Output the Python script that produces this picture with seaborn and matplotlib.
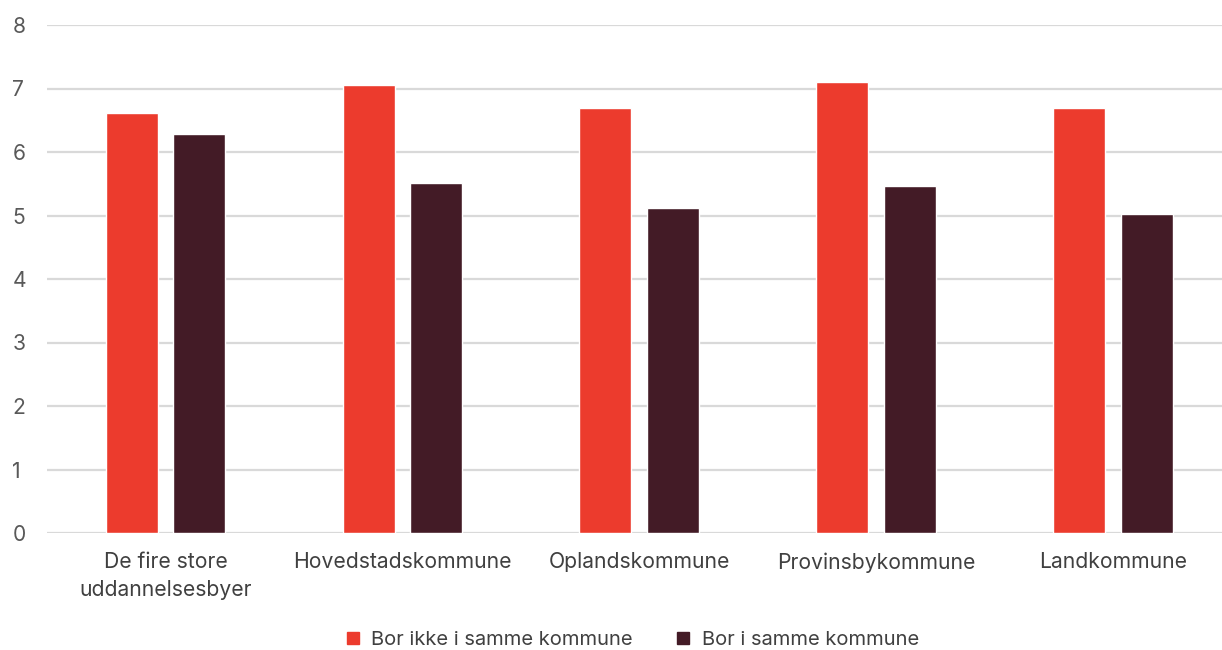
import seaborn as sns
import pandas as pd
import matplotlib.pyplot as plt

categories = ["De fire store\nuddannelsesbyer", "Hovedstadskommune", "Oplandskommune",
              "Provinsbykommune", "Landkommune"]
series = ["Bor ikke i samme kommune", "Bor i samme kommune"]
ikke_samme = [6.61, 7.06, 6.69, 7.10, 6.70]
samme = [6.28, 5.51, 5.12, 5.47, 5.02]

colors = {"Bor ikke i samme kommune": "#EC3B2D", "Bor i samme kommune": "#431B26"}

df = pd.DataFrame({
    "kategori": categories * 2,
    "gruppe": [series[0]] * 5 + [series[1]] * 5,
    "værdi": ikke_samme + samme,
})

sns.set_theme(style="white")
plt.rcParams["font.family"] = ["Inter", "DejaVu Sans"]

fig = plt.figure(figsize=(12.22, 6.5), dpi=100)
ax = fig.add_axes([47 / 1222, 1 - 533 / 650, 1 - 47 / 1222, (533 - 25) / 650])

sns.barplot(data=df, x="kategori", y="værdi", hue="gruppe", hue_order=series,
            palette=colors, width=0.57, gap=0.23, saturation=1, ax=ax, legend=False)

ax.set_ylim(0, 8)
ax.set_xlim(-0.5, 4.46)
ax.set_yticks(range(0, 9))
ax.yaxis.grid(True, color="#d9d9d9", linewidth=1.6)
ax.set_axisbelow(True)
for s in ax.spines.values():
    s.set_visible(False)
ax.tick_params(axis="both", length=0, labelsize=15.2, colors="#595959")
ax.tick_params(axis="x", pad=14, labelcolor="#404040")
ax.tick_params(axis="y", pad=25)
for lab in ax.get_yticklabels():
    lab.set_horizontalalignment("left")
for lab in ax.get_xticklabels():
    lab.set_linespacing(1.45)
ax.set_xlabel("")
ax.set_ylabel("")

handles = [plt.Rectangle((0, 0), 1, 1, color=colors[s]) for s in series]
fig.legend(handles, series, loc="center", bbox_to_anchor=(633 / 1222, 1 - 640 / 650),
           ncol=2, frameon=False, fontsize=14.5, handlelength=0.6, handleheight=0.6,
           handletextpad=0.6, columnspacing=2.2, labelcolor="#404040")

fig.savefig("out.png", dpi=100)
